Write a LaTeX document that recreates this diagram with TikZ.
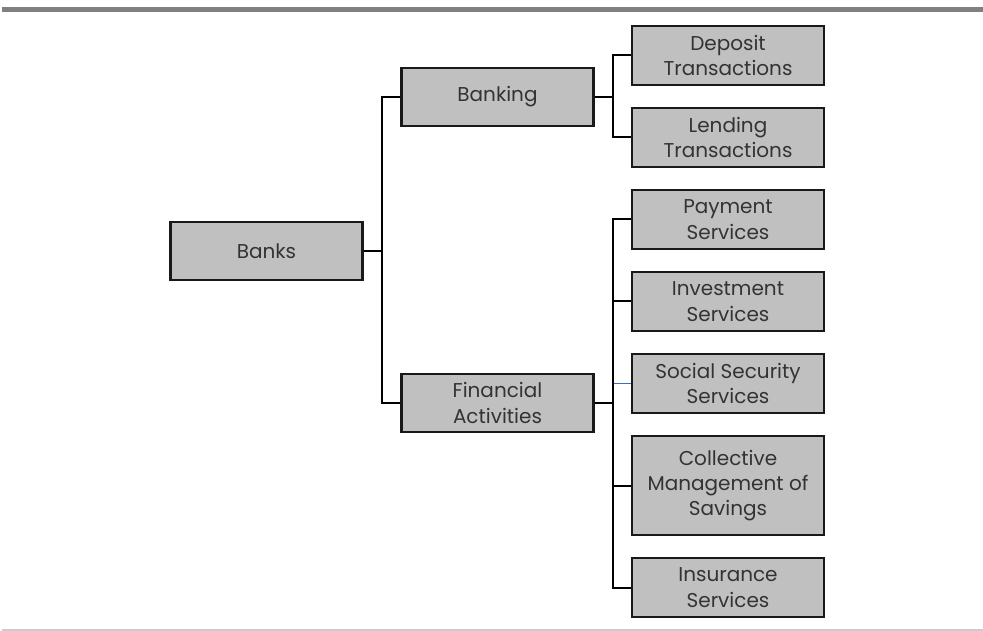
\documentclass[tikz,border=0pt]{standalone}
\usepackage{fontspec}
\setmainfont{Poppins}
\usetikzlibrary{calc}
\definecolor{boxgray}{HTML}{C0C0C0}
\definecolor{textgray}{HTML}{333333}
\definecolor{rulegray}{HTML}{808080}
\definecolor{linkblue}{HTML}{3F6CC0}

\begin{document}
\begin{tikzpicture}[x=0.75pt,y=-0.75pt,
		item/.style={draw=black!90, line width=1.6pt, fill=boxgray, text=textgray,
			minimum width=144pt, minimum height=44pt, inner sep=1pt, align=center,
			font=\fontsize{15}{19}\selectfont},
		tall/.style={item, minimum height=74pt},
		link/.style={line width=1.5pt, black}]
		%%%%% START %%%%%
		
		\useasboundingbox (0,0) rectangle (983,631);
		\draw[line width=3.8pt, rulegray] (2,9.5) -- (983,9.5);
		\draw[line width=1.1pt, black!20] (2,630) -- (983,630);
		
		\node[item] (banks) at (266.5,251) {Banks};
		\node[item] (banking) at (497.5,97) {Banking};
		\node[item] (fin) at (497.5,403) {Financial\\Activities};
		
		\node[item] (deposit) at (728,55.5) {Deposit\\Transactions};
		\node[item] (lending) at (728,137.5) {Lending\\Transactions};
		
		\node[item] (payment) at (728,219.5) {Payment\\Services};
		\node[item] (invest) at (728,301.5) {Investment\\Services};
		\node[item] (social) at (728,383.5) {Social Security\\Services};
		\node[tall] (collect) at (728,485.5) {Collective\\Management of\\Savings};
		\node[item] (insure) at (728,587.5) {Insurance\\Services};
		
		% banks -> banking, financial activities
		\draw[link] (banks.east) -- ++(18,0) coordinate (j1);
		\draw[link] (j1) |- (banking.west);
		\draw[link] (j1) |- (fin.west);
		
		% banking -> transactions
		\draw[link] (banking.east) -- ++(18,0) coordinate (j2);
		\draw[link] (j2) |- (deposit.west);
		\draw[link] (j2) |- (lending.west);
		
		% financial activities -> services
		\draw[link] (fin.east) -- ++(18,0) coordinate (j3);
		\draw[line width=1pt, linkblue] (j3) |- (social.west);
		\draw[link] (j3) |- (payment.west);
		\draw[link] (j3) |- (invest.west);
		\draw[link] (j3) |- (collect.west);
		\draw[link] (j3) |- (insure.west);
		
		%%%%% END %%%%%
\end{tikzpicture}
\end{document}
